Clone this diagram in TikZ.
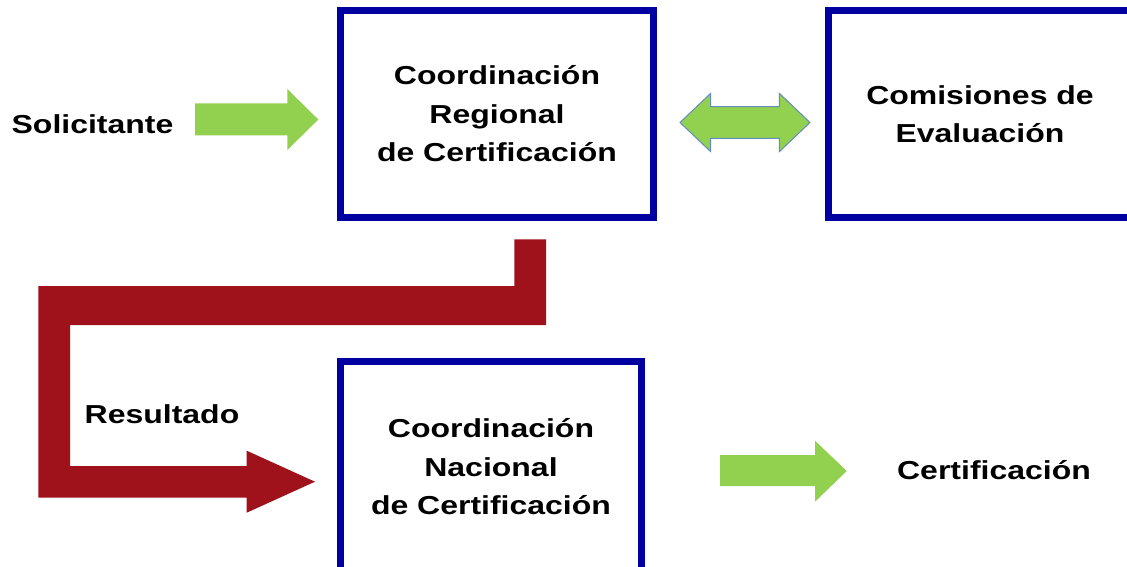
\documentclass[tikz,border=0pt]{standalone}
\usepackage{fontspec}
\setmainfont{Liberation Sans}
\definecolor{boxblue}{RGB}{0,0,160}
\definecolor{arrred}{RGB}{159,17,27}
\definecolor{arrgreen}{RGB}{146,208,80}
\definecolor{arredge}{RGB}{100,140,190}
\newcommand\widetxt[1]{\scalebox{1.23}[1]{#1}}
\begin{document}
\begin{tikzpicture}[x=1pt,y=-1pt,
  box/.style={draw=boxblue, line width=7pt, fill=white, align=center, inner sep=0pt,
              font=\fontsize{26}{38.5}\selectfont\bfseries},
  lbl/.style={font=\fontsize{26}{38.5}\selectfont\bfseries, inner sep=0pt},
  garrow/.style={fill=arrgreen},
  rarrow/.style={fill=arrred}]
\useasboundingbox (0,0) rectangle (1127,567);
\fill[white] (0,0) rectangle (1127,567);
% boxes
\node[box, minimum width=313pt, minimum height=207pt] (reg) at (497,114)
  {\widetxt{Coordinación}\\\widetxt{Regional}\\\widetxt{de Certificación}};
\node[box, minimum width=303pt, minimum height=207pt] (com) at (980,114)
  {\widetxt{Comisiones de}\\\widetxt{Evaluación}};
\node[box, minimum width=301pt, minimum height=211pt] (nac) at (491,467)
  {\widetxt{Coordinación}\\\widetxt{Nacional}\\\widetxt{de Certificación}};
% labels
\node[lbl] (sol) at (92.5,124) {\widetxt{Solicitante}};
\node[lbl] (res) at (162,414) {\widetxt{Resultado}};
\node[lbl] (cert) at (994,470) {\widetxt{Certificación}};
% green arrow Solicitante -> Regional
\fill[garrow] (195,103.5) -- (287.3,103.5) -- (287.3,89) -- (318.3,119.5)
  -- (287.3,150) -- (287.3,135.5) -- (195,135.5) -- cycle;
% double arrow Regional <-> Comisiones
\filldraw[garrow, draw=arredge, line width=1pt] (680,122.5) -- (710.7,93.3) -- (710.7,106.7)
  -- (779.3,106.7) -- (779.3,93.3) -- (810,122.5) -- (779.3,151.7) -- (779.3,138.3)
  -- (710.7,138.3) -- (710.7,151.7) -- cycle;
% green arrow Nacional -> Certificacion
\fill[garrow] (720,455) -- (815,455) -- (815,440.7) -- (846.7,471)
  -- (815,501.7) -- (815,486) -- (720,486) -- cycle;
% red arrow Regional -> Nacional
\fill[rarrow] (546,239.3) -- (546,325) -- (70,325) -- (70,466) -- (246.7,466)
  -- (246.7,450.7) -- (315,481.7) -- (246.7,512.7) -- (246.7,497.7) -- (38.3,497.7)
  -- (38.3,286) -- (514.3,286) -- (514.3,239.3) -- cycle;
\end{tikzpicture}
\end{document}
